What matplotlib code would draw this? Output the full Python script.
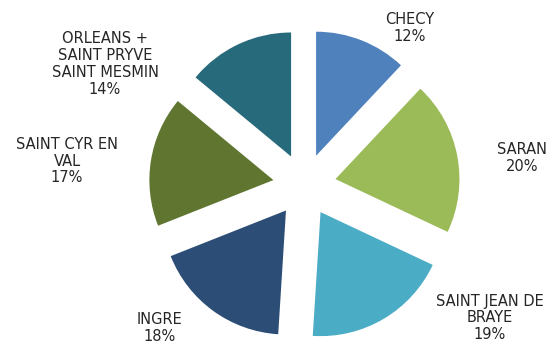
import matplotlib
matplotlib.use("Agg")
import matplotlib.pyplot as plt

# share of each commune
communes = ["CHECY", "SARAN", "SAINT JEAN DE\nBRAYE", "INGRE",
            "SAINT CYR EN\nVAL", "ORLEANS +\nSAINT PRYVE\nSAINT MESMIN"]
shares = [12, 20, 19, 18, 17, 14]
colors = ["#4F81BD", "#9BBB59", "#4BACC6", "#2C4D75", "#5F7530", "#276A7C"]

# label anchor points, in pixels
label_pos = [(410, 28), (522, 158), (490, 318), (160, 328), (67, 161), (105, 64)]

W, H = 559, 344
fig = plt.figure(figsize=(W / 100, H / 100), dpi=100)
ax = fig.add_axes([0, 0, 1, 1])

radius = 124
ax.pie(shares, colors=colors, startangle=90, counterclock=False,
       radius=radius, center=(304.5, H - 185),
       explode=[31.5] * len(shares),
       wedgeprops=dict(linewidth=0))

for name, val, (x, y) in zip(communes, shares, label_pos):
    ax.text(x, H - y, f"{name}\n{val}%", ha="center", va="center",
            fontsize=10.5, color="#262626", family="DejaVu Sans", linespacing=1.15)

ax.set_xlim(0, W)
ax.set_ylim(0, H)
ax.set_aspect("equal")
ax.axis("off")

fig.savefig("out.png", dpi=100)
